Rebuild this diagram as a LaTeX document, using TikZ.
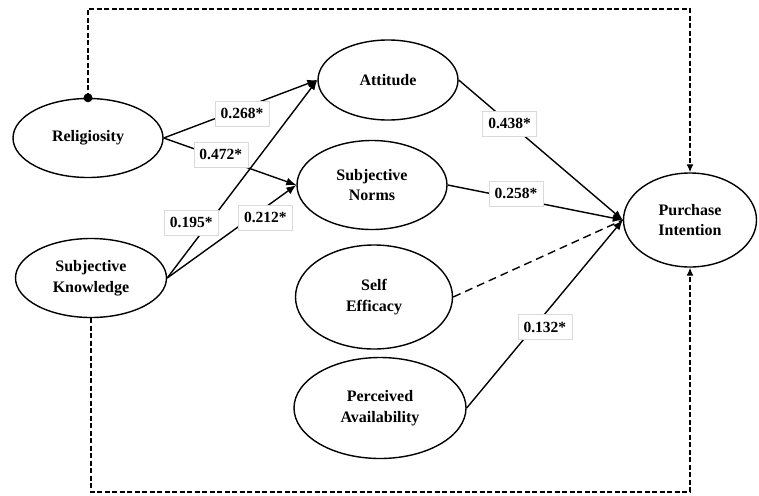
\documentclass[tikz,border=0pt]{standalone}
\usepackage{fontspec}
\setmainfont{Liberation Serif}
\usetikzlibrary{arrows.meta, shapes.geometric}

\begin{document}
\begin{tikzpicture}[
    x=1pt, y=-1pt,
    >={Latex[length=10pt,width=8pt]},
    construct/.style={ellipse, draw, line width=1.4pt, inner sep=0pt, align=center,
                      font=\bfseries\fontsize{16}{20.5}\selectfont},
    coef/.style={fill=white, draw=black!15, line width=0.4pt, inner sep=2pt,
                 minimum width=54pt, minimum height=25pt,
                 font=\bfseries\fontsize{15.5}{16}\selectfont},
    effect/.style={->, line width=1.4pt},
    noeffect/.style={line width=1.4pt, dash pattern=on 8pt off 5pt},
    control/.style={line width=1.3pt, dash pattern=on 5pt off 2.5pt,
                    -{Latex[length=8pt,width=7pt]}}
]
\useasboundingbox (0,0) rectangle (759,495);

% Constructs
\node[construct, minimum width=150pt, minimum height=79pt] (rel) at (88,138) {Religiosity};
\node[construct, minimum width=151pt, minimum height=79pt] (sk) at (91,278) {Subjective\\Knowledge};
\node[construct, minimum width=140pt, minimum height=80pt] (att) at (388,80) {Attitude};
\node[construct, minimum width=150pt, minimum height=89pt] (sn) at (372,185) {Subjective\\Norms};
\node[construct, minimum width=157pt, minimum height=104pt] (se) at (374,297) {Self\\Efficacy};
\node[construct, minimum width=172pt, minimum height=101pt] (pa) at (380,408) {Perceived\\Availability};
\node[construct, minimum width=133pt, minimum height=94pt] (pi) at (690,220) {Purchase\\Intention};

% Direct paths with coefficients
\draw[effect] (rel.east) -- node[coef, pos=0.51, yshift=-5pt] (c1) {0.268*} (att.west);
\draw[effect] (rel.east) -- node[coef, pos=0.43, yshift=4pt] (c2) {0.472*} (sn.west);
\draw[effect] (sk.east) -- node[coef, pos=0.28, xshift=-18pt] (c3) {0.195*} (att.west);
\draw[effect] (sk.east) -- node[coef, pos=0.76, yshift=-10pt] (c4) {0.212*} (sn.west);
\draw[effect] (att.east) -- node[coef, pos=0.31] (c5) {0.438*} (pi.west);
\draw[effect] (sn.east) -- node[coef, pos=0.39, yshift=5pt] (c6) {0.258*} (pi.west);
\draw[noeffect] (se.east) -- (pi.west);
\draw[effect] (pa.east) -- node[coef, pos=0.43, xshift=11pt] (c7) {0.132*} (pi.west);

% Moderating links (dashed)
\coordinate (topline) at (0,9);
\coordinate (botline) at (0,492);
\draw[control] (rel.north) -- (rel.north |- topline) -| (pi.north);
\fill (rel.north) circle[radius=4.5pt];
\draw[control] (sk.south) -- (sk.south |- botline) -| (pi.south);

\end{tikzpicture}
\end{document}
